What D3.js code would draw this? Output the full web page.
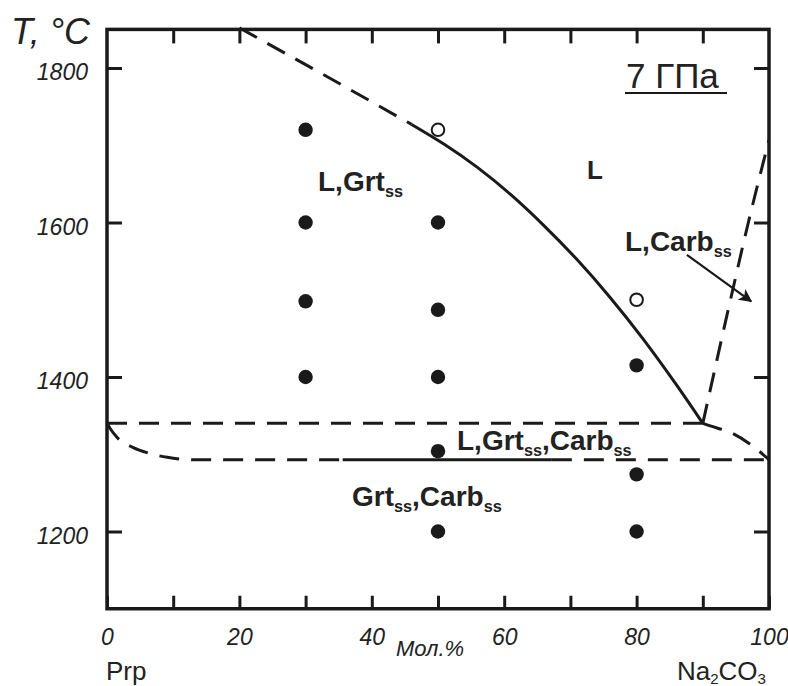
<!DOCTYPE html>
<html>
<head>
<meta charset="utf-8">
<script src="https://cdn.jsdelivr.net/npm/d3@7"></script>
<style>
  html, body { margin: 0; padding: 0; background: #fff; }
  svg { display: block; }
  text { font-family: Arial, "Liberation Sans", Helvetica, sans-serif; fill: #222; }
</style>
</head>
<body>
<script>
// Phase diagram Prp – Na2CO3 at 7 GPa
const xDomain = [0, 100];
const tDomain = [1100, 1850];
const xTickValues = [0, 10, 20, 30, 40, 50, 60, 70, 80, 90, 100];
const xTickLabels = [0, 20, 40, 60, 80, 100];
const tTickValues = [1200, 1400, 1600, 1800];

// experimental runs: composition (mol.% Na2CO3) and temperature
const solidRunX = [30, 30, 30, 30, 50, 50, 50, 50, 50, 80, 80, 80];
const solidRunT = [1720, 1600, 1498, 1400, 1600, 1487, 1400, 1304, 1200, 1415, 1274, 1200];
const liquidRunX = [50, 80];
const liquidRunT = [1720, 1500];

// garnet liquidus: dashed (extrapolated) and solid parts
const liquidusDashed = [[20, 1852], [33, 1790], [46, 1727]];
const liquidusSolid = [[46, 1727], [51, 1701], [56, 1671], [61, 1636], [66, 1596],
  [71, 1552], [76, 1503], [81, 1449], [86, 1390], [90, 1340]];
// carbonate liquidus
const carbLiquidus = [[90, 1340], [94.5, 1512], [96.6, 1590], [100, 1707]];
// eutectic line
const eutecticT = 1340;
const eutecticX = [0, 90];
// solidus
const solidusT = 1293;
const solidusLeft = [[0, 1340], [0.5, 1333], [1.5, 1322], [3.9, 1309], [6.5, 1301],
  [9.1, 1296], [13, 1293], [35.6, 1293]];
const solidusSolidX = [35.6, 67.2];
const solidusDashedX = [67.2, 100];
const solidusRight = [[90, 1340], [91, 1337], [94.5, 1327], [97, 1314], [100, 1293]];
// pointer to the L + Carb_ss field
const pointerFrom = [87.6, 1558];
const pointerTo = [97.3, 1498];

const W = 788, H = 686;
const svg = d3.select("body").append("svg").attr("width", W).attr("height", H);
svg.append("rect").attr("width", W).attr("height", H).attr("fill", "#fff");

const x = d3.scaleLinear().domain(xDomain).range([107, 769]);
const y = d3.scaleLinear().domain(tDomain).range([608.75, 29.4]);

const ink = "#1a1a1a";
const dash = "20,12";

svg.append("defs").append("marker")
  .attr("id", "arrowhead").attr("viewBox", "0 0 10 10")
  .attr("refX", 9).attr("refY", 5)
  .attr("markerWidth", 7).attr("markerHeight", 6)
  .attr("markerUnits", "strokeWidth").attr("orient", "auto")
  .append("path").attr("d", "M0,0 L10,5 L0,10 L2.5,5 Z").attr("fill", ink);

// axes (ticks point inward)
function styleAxis(g) {
  g.select(".domain").remove();
  g.selectAll(".tick line").attr("stroke", ink).attr("stroke-width", 3);
}
svg.append("g").attr("transform", `translate(0,${y(tDomain[0])})`)
  .call(d3.axisBottom(x).tickValues(xTickValues).tickSizeInner(-13).tickSizeOuter(0)
    .tickFormat(d => xTickLabels.includes(d) ? String(d) : ""))
  .call(styleAxis)
  .call(g => g.selectAll(".tick text")
    .attr("y", 36).attr("dy", 0)
    .attr("font-size", 23).attr("font-style", "italic")
    .attr("font-family", "Arial, 'Liberation Sans', sans-serif").attr("fill", "#222"));
svg.append("g").attr("transform", `translate(0,${y(tDomain[1])})`)
  .call(d3.axisTop(x).tickValues(xTickValues.slice(1, -1)).tickSizeInner(-14).tickSizeOuter(0).tickFormat(""))
  .call(styleAxis);
svg.append("g").attr("transform", `translate(${x(0)},0)`)
  .call(d3.axisLeft(y).tickValues(tTickValues).tickFormat(d3.format("d"))
    .tickSizeInner(-15).tickSizeOuter(0).tickPadding(19))
  .call(styleAxis)
  .call(g => g.selectAll(".tick text")
    .attr("dy", "0.5em")
    .attr("font-size", 23).attr("font-style", "italic")
    .attr("font-family", "Arial, 'Liberation Sans', sans-serif").attr("fill", "#222"));
svg.append("g").attr("transform", `translate(${x(100)},0)`)
  .call(d3.axisRight(y).tickValues(tTickValues).tickSizeInner(-15).tickSizeOuter(0).tickFormat(""))
  .call(styleAxis);

// frame
svg.append("rect")
  .attr("x", x(0)).attr("y", y(tDomain[1]))
  .attr("width", x(100) - x(0)).attr("height", y(tDomain[0]) - y(tDomain[1]))
  .attr("fill", "none").attr("stroke", ink).attr("stroke-width", 3.5);

// phase boundaries
const curve = d3.line().x(d => x(d[0])).y(d => y(d[1])).curve(d3.curveMonotoneX);
const smooth = d3.line().x(d => x(d[0])).y(d => y(d[1])).curve(d3.curveNatural);
const straight = d3.line().x(d => x(d[0])).y(d => y(d[1]));
const curveY = d3.line().x(d => x(d[0])).y(d => y(d[1])).curve(d3.curveMonotoneY);

function boundary(d, gen, dashed) {
  svg.append("path").attr("d", gen(d)).attr("fill", "none")
    .attr("stroke", ink).attr("stroke-width", 3)
    .attr("stroke-dasharray", dashed ? dash : null);
}
boundary(liquidusDashed, smooth, true);
boundary(liquidusSolid, smooth, false);
boundary(carbLiquidus, curveY, true);
boundary(eutecticX.map(v => [v, eutecticT]), straight, true);
boundary(solidusLeft, curve, true);
boundary(solidusSolidX.map(v => [v, solidusT]), straight, false);
boundary(solidusDashedX.map(v => [v, solidusT]), straight, true);
boundary(solidusRight, curve, true);

// pointer arrow
svg.append("line")
  .attr("x1", x(pointerFrom[0])).attr("y1", y(pointerFrom[1]))
  .attr("x2", x(pointerTo[0])).attr("y2", y(pointerTo[1]))
  .attr("stroke", ink).attr("stroke-width", 2.2)
  .attr("marker-end", "url(#arrowhead)");

// runs
svg.append("g").selectAll("circle").data(d3.range(solidRunX.length)).join("circle")
  .attr("cx", i => x(solidRunX[i])).attr("cy", i => y(solidRunT[i]))
  .attr("r", 7.2).attr("fill", ink);
svg.append("g").selectAll("circle").data(d3.range(liquidRunX.length)).join("circle")
  .attr("cx", i => x(liquidRunX[i])).attr("cy", i => y(liquidRunT[i]))
  .attr("r", 6.3).attr("fill", "#fff").attr("stroke", ink).attr("stroke-width", 2);

// field labels; "ss" parts are set as subscripts
function fieldLabel(px, py, parts, size) {
  const t = svg.append("text").attr("x", px).attr("y", py)
    .attr("font-weight", "bold").attr("font-size", size).attr("fill", ink);
  let low = false;
  parts.forEach(s => {
    const sub = s === "ss";
    const span = t.append("tspan").text(s);
    if (sub) span.attr("font-size", size * 0.58);
    span.attr("dy", sub === low ? 0 : (sub ? 6 : -6));
    low = sub;
  });
}
fieldLabel(318, 191, ["L,Grt", "ss"], 28);
fieldLabel(587, 179, ["L"], 26);
fieldLabel(625, 251, ["L,Carb", "ss"], 28);
fieldLabel(457, 450, ["L,Grt", "ss", ",Carb", "ss"], 28);
fieldLabel(352, 506, ["Grt", "ss", ",Carb", "ss"], 28);

// axis titles and pressure
svg.append("text").attr("x", 11).attr("y", 44)
  .attr("font-size", 36).attr("font-style", "italic").attr("fill", ink).text("T, °C");
svg.append("text").attr("x", 626).attr("y", 88)
  .attr("font-size", 35).attr("fill", ink).text("7 ГПа");
svg.append("line").attr("x1", 625).attr("x2", 727).attr("y1", 93).attr("y2", 93)
  .attr("stroke", ink).attr("stroke-width", 2);
svg.append("text").attr("x", 396).attr("y", 656)
  .attr("font-size", 22).attr("font-style", "italic").attr("fill", ink).text("Мол.%");
svg.append("text").attr("x", 106).attr("y", 680)
  .attr("font-size", 26).attr("fill", ink).text("Prp");
const na = svg.append("text").attr("x", 677).attr("y", 680).attr("font-size", 26).attr("fill", ink);
na.append("tspan").text("Na");
na.append("tspan").text("2").attr("font-size", 15).attr("dy", 4);
na.append("tspan").text("CO").attr("dy", -4);
na.append("tspan").text("3").attr("font-size", 15).attr("dy", 4);
</script>
</body>
</html>
